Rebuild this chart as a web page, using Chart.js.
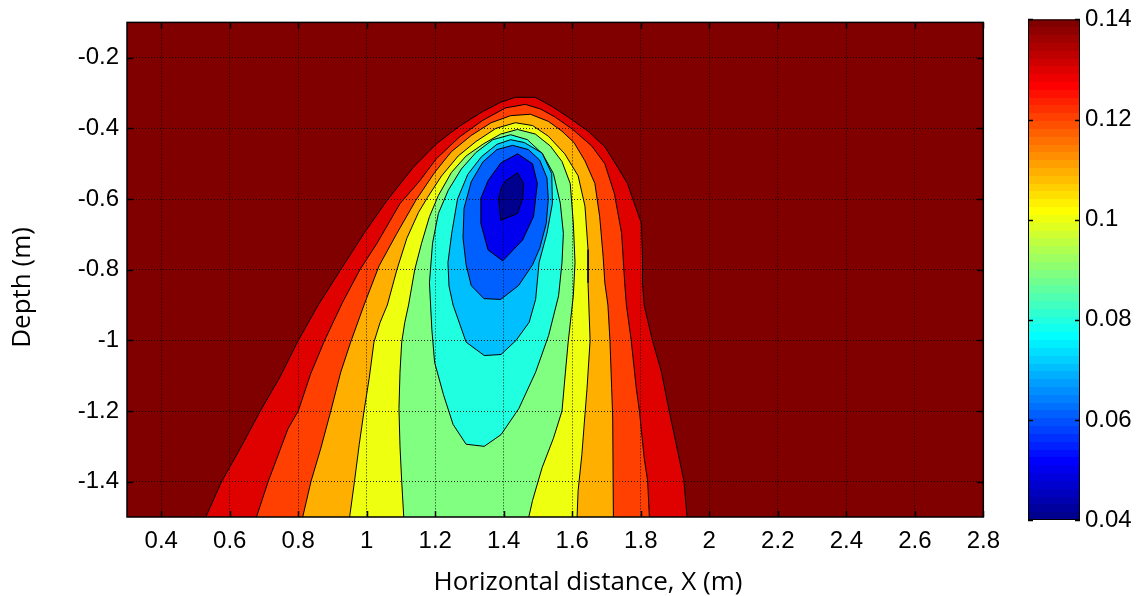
<!DOCTYPE html>
<html>
<head>
<meta charset="utf-8">
<script src="https://cdn.jsdelivr.net/npm/chart.js@4.4.1/dist/chart.umd.min.js"></script>
<style>
  html, body { margin: 0; padding: 0; background: #fff; }
  #wrap { position: relative; width: 1143px; height: 596px; }
  #main { position: absolute; left: 0; top: 0; width: 1010px; height: 596px; }
  #bar { position: absolute; left: 1000px; top: 0; width: 143px; height: 596px; }
</style>
</head>
<body>
<div id="wrap">
  <div id="main"><canvas id="contourChart"></canvas></div>
  <div id="bar"><canvas id="colorBar"></canvas></div>
</div>
<script>
// axis ticks
const xTicks = [0.4, 0.6, 0.8, 1.0, 1.2, 1.4, 1.6, 1.8, 2.0, 2.2, 2.4, 2.6, 2.8];
const yTicks = [-1.4, -1.2, -1.0, -0.8, -0.6, -0.4, -0.2];
const cbTicks = [0.04, 0.06, 0.08, 0.10, 0.12, 0.14];

const xTitle = 'Horizontal distance, X (m)';
const yTitle = 'Depth (m)';

// contour levels, each boundary traced as [x, depth]
const levels = [0.04, 0.05, 0.06, 0.07, 0.08, 0.09, 0.10, 0.11, 0.12, 0.13];

const c04 = [[1.406,-0.548],[1.440,-0.526],[1.458,-0.556],[1.455,-0.598],[1.440,-0.641],[1.391,-0.660],[1.385,-0.598],[1.394,-0.565]];
const c05 = [[1.391,-0.498],[1.440,-0.472],[1.484,-0.500],[1.498,-0.556],[1.487,-0.649],[1.455,-0.716],[1.397,-0.775],[1.354,-0.744],[1.333,-0.669],[1.333,-0.598],[1.354,-0.548]];
const c06 = [[1.426,-0.448],[1.472,-0.460],[1.505,-0.490],[1.526,-0.540],[1.530,-0.600],[1.524,-0.669],[1.505,-0.739],[1.484,-0.786],[1.443,-0.845],[1.391,-0.884],[1.342,-0.882],[1.305,-0.845],[1.290,-0.786],[1.281,-0.710],[1.284,-0.626],[1.305,-0.551],[1.339,-0.495],[1.380,-0.460]];
const c07 = [[1.237,-0.780],[1.240,-0.846],[1.252,-0.900],[1.290,-1.005],[1.343,-1.043],[1.392,-1.040],[1.436,-1.000],[1.474,-0.949],[1.493,-0.884],[1.503,-0.780],[1.526,-0.697],[1.542,-0.612],[1.540,-0.528],[1.512,-0.470],[1.460,-0.440],[1.420,-0.432],[1.380,-0.445],[1.335,-0.480],[1.295,-0.530],[1.265,-0.600],[1.248,-0.697]];
const c08 = [[1.183,-0.837],[1.190,-0.969],[1.198,-1.062],[1.224,-1.154],[1.252,-1.238],[1.290,-1.294],[1.343,-1.300],[1.392,-1.267],[1.444,-1.193],[1.493,-1.090],[1.531,-0.986],[1.560,-0.874],[1.570,-0.780],[1.574,-0.697],[1.565,-0.612],[1.545,-0.528],[1.513,-0.472],[1.469,-0.432],[1.420,-0.418],[1.368,-0.432],[1.319,-0.468],[1.276,-0.515],[1.238,-0.575],[1.209,-0.641],[1.192,-0.725]];
const c09 = [[1.108,-1.5],[1.102,-1.4],[1.097,-1.3],[1.094,-1.193],[1.097,-1.09],[1.102,-1.005],[1.111,-0.949],[1.122,-0.90],[1.140,-0.80],[1.160,-0.725],[1.183,-0.650],[1.209,-0.590],[1.247,-0.525],[1.290,-0.478],[1.342,-0.443],[1.391,-0.416],[1.440,-0.403],[1.492,-0.416],[1.536,-0.450],[1.570,-0.494],[1.594,-0.556],[1.603,-0.668],[1.608,-0.780],[1.603,-0.874],[1.588,-1.005],[1.580,-1.09],[1.570,-1.2],[1.545,-1.277],[1.512,-1.36],[1.484,-1.453],[1.473,-1.5]];
const c10 = [[0.950,-1.5],[0.964,-1.4],[0.978,-1.295],[0.992,-1.2],[1.007,-1.108],[1.021,-1.005],[1.039,-0.949],[1.060,-0.90],[1.088,-0.80],[1.117,-0.711],[1.151,-0.638],[1.177,-0.596],[1.218,-0.535],[1.267,-0.478],[1.319,-0.437],[1.377,-0.400],[1.434,-0.384],[1.484,-0.392],[1.530,-0.422],[1.578,-0.472],[1.617,-0.534],[1.637,-0.620],[1.646,-0.743],[1.646,-0.837],[1.652,-1.0],[1.643,-1.137],[1.637,-1.21],[1.628,-1.323],[1.617,-1.426],[1.614,-1.5]];
const c11 = [[0.813,-1.5],[0.837,-1.4],[0.866,-1.305],[0.895,-1.2],[0.924,-1.09],[0.953,-1.005],[0.992,-0.90],[1.036,-0.789],[1.088,-0.697],[1.143,-0.604],[1.198,-0.525],[1.247,-0.466],[1.305,-0.420],[1.363,-0.384],[1.420,-0.364],[1.478,-0.360],[1.530,-0.380],[1.570,-0.408],[1.605,-0.440],[1.637,-0.492],[1.666,-0.556],[1.680,-0.650],[1.690,-0.762],[1.695,-0.837],[1.704,-0.90],[1.710,-1.0],[1.715,-1.137],[1.718,-1.22],[1.720,-1.5]];
const c12 = [[0.678,-1.5],[0.712,-1.4],[0.770,-1.25],[0.800,-1.2],[0.836,-1.095],[0.877,-1.0],[0.929,-0.893],[0.980,-0.80],[1.030,-0.725],[1.097,-0.613],[1.155,-0.548],[1.203,-0.486],[1.270,-0.425],[1.339,-0.377],[1.405,-0.342],[1.463,-0.332],[1.507,-0.345],[1.550,-0.368],[1.600,-0.402],[1.657,-0.450],[1.695,-0.500],[1.723,-0.585],[1.744,-0.697],[1.753,-0.837],[1.758,-0.90],[1.772,-1.0],[1.787,-1.137],[1.796,-1.2],[1.810,-1.333],[1.820,-1.398],[1.825,-1.5]];
const c13 = [[0.530,-1.5],[0.576,-1.4],[0.634,-1.3],[0.689,-1.2],[0.747,-1.103],[0.799,-1.002],[0.857,-0.902],[0.923,-0.801],[0.992,-0.697],[1.059,-0.604],[1.137,-0.509],[1.203,-0.444],[1.270,-0.394],[1.339,-0.352],[1.391,-0.326],[1.434,-0.312],[1.492,-0.312],[1.541,-0.338],[1.588,-0.368],[1.645,-0.407],[1.695,-0.452],[1.732,-0.509],[1.761,-0.556],[1.781,-0.612],[1.802,-0.669],[1.805,-0.761],[1.805,-0.837],[1.810,-0.901],[1.834,-1.0],[1.860,-1.088],[1.883,-1.2],[1.912,-1.333],[1.926,-1.398],[1.935,-1.5]];

const contours = [c04, c05, c06, c07, c08, c09, c10, c11, c12, c13];

// fill colours (jet), innermost first; background is the top band
const bandColors = ['#00008F', '#0000EF', '#0060FF', '#00BFFF', '#20FFDF', '#80FF80', '#EFFF10', '#FFAF00', '#FF4000', '#DF0000'];
const bgColor = '#800000';

const xMin = 0.3, xMax = 2.8, yMin = -1.5, yMax = -0.1;
const tickFont = { family: '"Liberation Sans", Arial, sans-serif', size: 24 };
const titleFont = '26px "Open Sans", "Noto Sans", sans-serif';

function fmt(v) {
  return String(parseFloat(Number(v).toFixed(2)));
}

// MATLAB jet(64)
function jet64() {
  const n = 16, u = [];
  for (let i = 1; i <= n; i++) u.push(i / n);
  for (let i = 0; i < n - 1; i++) u.push(1);
  for (let i = n; i >= 1; i--) u.push(i / n);
  const pick = k => (k >= 1 && k <= u.length ? u[k - 1] : 0);
  const rows = [];
  for (let k = 1; k <= 64; k++) {
    rows.push([pick(k - 24), pick(k - 8), pick(k + 8)].map(c => Math.round(c * 255)));
  }
  return rows;
}
const jetRows = jet64();

const datasets = levels.map(function (lv, i) {
  let pts = contours[i].map(p => ({ x: p[0], y: p[1] }));
  if (pts[0].y <= yMin) {
    // open at the bottom edge: close it below the plot, clipped away
    pts = [{ x: pts[0].x, y: yMin - 0.1 }].concat(pts, [{ x: pts[pts.length - 1].x, y: yMin - 0.1 }]);
  } else {
    pts.push(pts[0]);
  }
  return {
    label: 'level ' + lv,
    data: pts,
    fill: 'shape',
    backgroundColor: bandColors[i],
    borderColor: '#000',
    borderWidth: 1,
    pointRadius: 0,
    pointHoverRadius: 0,
    tension: 0,
    clip: 0
  };
});

const plotBg = {
  id: 'plotBg',
  beforeDatasetsDraw(chart) {
    const { ctx, chartArea: a } = chart;
    ctx.save();
    ctx.fillStyle = bgColor;
    ctx.fillRect(a.left, a.top, a.width, a.height);
    ctx.restore();
  }
};

const frame = {
  id: 'frame',
  afterDraw(chart) {
    const { ctx, chartArea: a, scales } = chart;
    ctx.save();
    ctx.strokeStyle = '#000';
    ctx.lineWidth = 1.5;
    ctx.strokeRect(a.left, a.top, a.width, a.height);
    ctx.beginPath();
    xTicks.forEach(function (v) {
      const px = Math.round(scales.x.getPixelForValue(v)) + 0.5;
      ctx.moveTo(px, a.bottom); ctx.lineTo(px, a.bottom - 6);
      ctx.moveTo(px, a.top); ctx.lineTo(px, a.top + 6);
    });
    yTicks.forEach(function (v) {
      const py = Math.round(scales.y.getPixelForValue(v)) + 0.5;
      ctx.moveTo(a.left, py); ctx.lineTo(a.left + 6, py);
      ctx.moveTo(a.right, py); ctx.lineTo(a.right - 6, py);
    });
    ctx.stroke();

    // axis titles
    ctx.fillStyle = '#000';
    ctx.font = titleFont;
    ctx.textAlign = 'center';
    ctx.textBaseline = 'middle';
    ctx.fillText(xTitle, a.left + 461, a.bottom + 66);
    ctx.translate(23, a.top + 265);
    ctx.rotate(-Math.PI / 2);
    ctx.fillText(yTitle, 0, 0);
    ctx.restore();
  }
};

new Chart(document.getElementById('contourChart'), {
  type: 'line',
  data: { datasets: datasets },
  options: {
    animation: false,
    responsive: true,
    maintainAspectRatio: false,
    events: [],
    layout: { padding: { left: 0, top: 18, right: 19, bottom: 0 } },
    plugins: { legend: { display: false }, tooltip: { enabled: false } },
    scales: {
      x: {
        type: 'linear', min: xMin, max: xMax,
        afterBuildTicks: s => { s.ticks = xTicks.map(v => ({ value: v })); },
        afterFit: s => { s.height = 79; },
        grid: { color: 'rgba(0,0,0,0.85)', lineWidth: 1, drawTicks: false, z: 1 },
        border: { display: false, dash: [1, 2] },
        ticks: { color: '#000', font: tickFont, padding: 10, autoSkip: false, maxRotation: 0, callback: v => fmt(v) }
      },
      y: {
        type: 'linear', min: yMin, max: yMax,
        afterBuildTicks: s => { s.ticks = yTicks.map(v => ({ value: v })); },
        afterFit: s => { s.width = 127; },
        grid: { color: 'rgba(0,0,0,0.85)', lineWidth: 1, drawTicks: false, z: 1 },
        border: { display: false, dash: [1, 2] },
        ticks: { color: '#000', font: tickFont, padding: 8, autoSkip: false, callback: v => fmt(v) }
      }
    }
  },
  plugins: [plotBg, frame]
});

// colour bar
function jetGradient(chart) {
  const a = chart.chartArea;
  if (!a) return 'rgb(' + jetRows[32].join(',') + ')';
  const g = chart.ctx.createLinearGradient(0, a.bottom, 0, a.top);
  jetRows.forEach(function (c, i) {
    const col = 'rgb(' + c.join(',') + ')';
    g.addColorStop(i / 64, col);
    g.addColorStop((i + 1) / 64, col);
  });
  return g;
}

const cbMarks = {
  id: 'cbMarks',
  afterDraw(chart) {
    const { ctx, chartArea: a, scales } = chart;
    ctx.save();
    ctx.strokeStyle = '#000';
    ctx.lineWidth = 1.5;
    ctx.beginPath();
    cbTicks.forEach(function (v) {
      const py = Math.round(scales.y.getPixelForValue(v)) + 0.5;
      ctx.moveTo(a.left, py); ctx.lineTo(a.left + 5, py);
      ctx.moveTo(a.right, py); ctx.lineTo(a.right - 5, py);
    });
    ctx.stroke();
    ctx.lineWidth = 1;
    ctx.strokeRect(a.left + 0.5, a.top + 0.5, a.width - 1, a.height - 1);
    ctx.restore();
  }
};

new Chart(document.getElementById('colorBar'), {
  type: 'bar',
  data: {
    labels: [''],
    datasets: [{
      data: [[cbTicks[0], cbTicks[cbTicks.length - 1]]],
      backgroundColor: ctx => jetGradient(ctx.chart),
      borderWidth: 0,
      barPercentage: 1,
      categoryPercentage: 1
    }]
  },
  options: {
    animation: false,
    responsive: true,
    maintainAspectRatio: false,
    events: [],
    layout: { padding: { left: 28, top: 19, right: 0, bottom: 76 } },
    plugins: { legend: { display: false }, tooltip: { enabled: false } },
    scales: {
      x: { display: false },
      y: {
        position: 'right', min: cbTicks[0], max: cbTicks[cbTicks.length - 1],
        afterBuildTicks: s => { s.ticks = cbTicks.map(v => ({ value: v })); },
        afterFit: s => { s.width = 63; },
        grid: { display: false, drawTicks: false },
        border: { display: false },
        ticks: { color: '#000', font: tickFont, padding: 5, autoSkip: false, callback: v => fmt(v) }
      }
    }
  },
  plugins: [cbMarks]
});
</script>
</body>
</html>
